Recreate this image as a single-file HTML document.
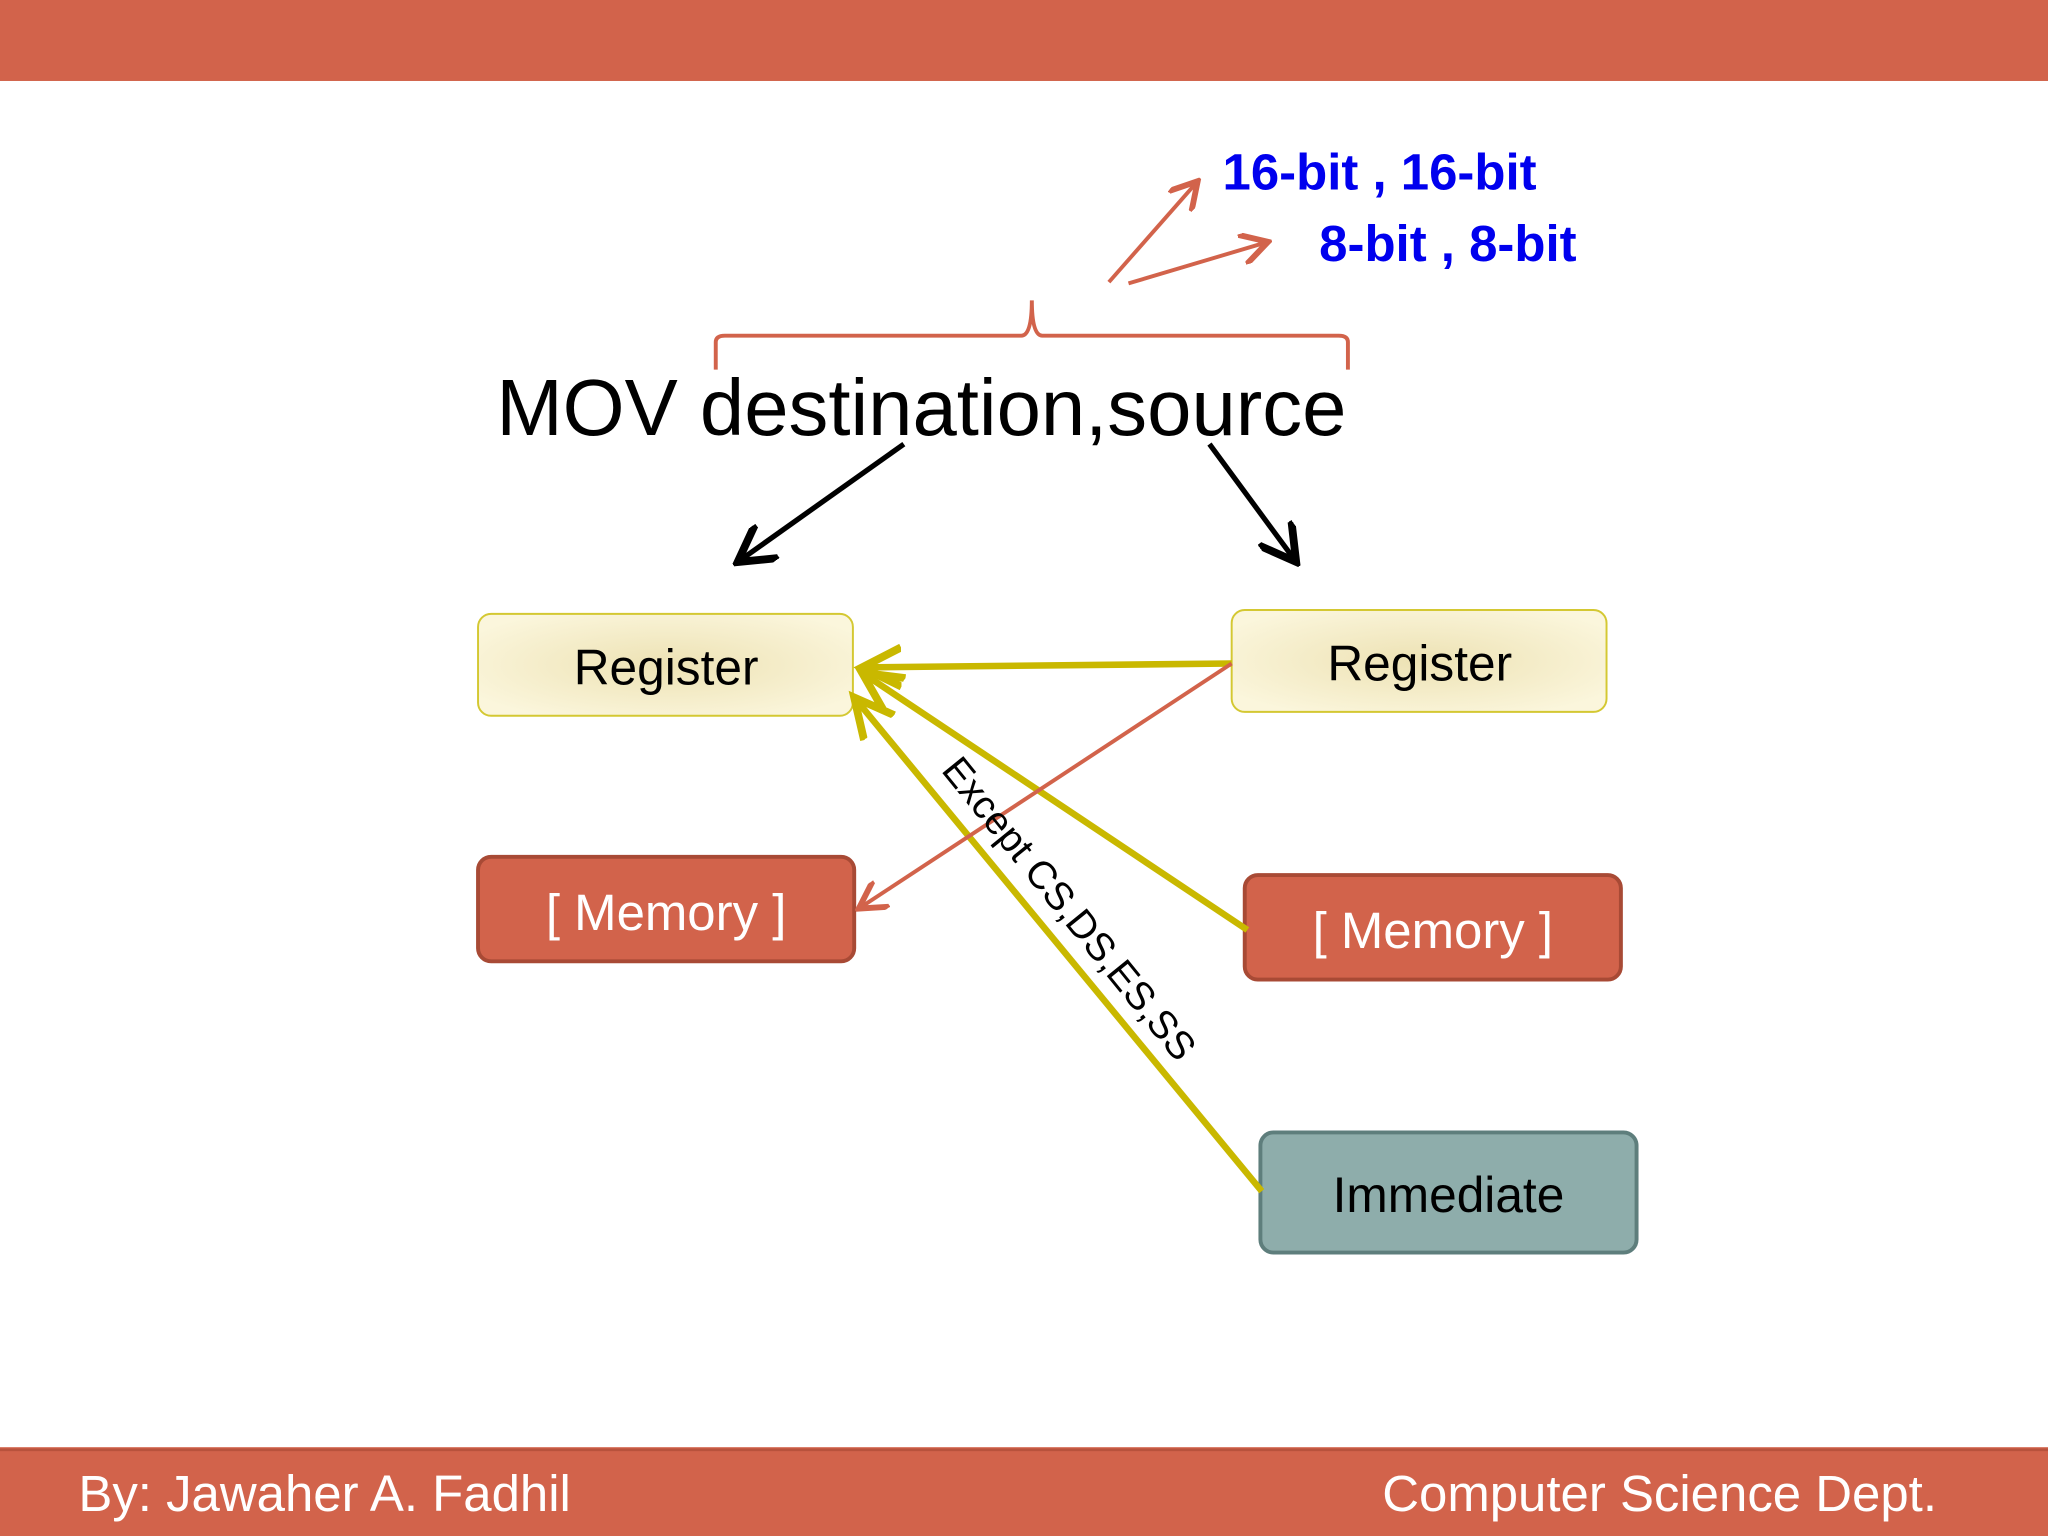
<!DOCTYPE html>
<html><head><meta charset="utf-8"><style>
html,body{margin:0;padding:0;background:#fff;}
svg{display:block;}
</style></head><body>
<svg width="2048" height="1536" viewBox="0 0 1568 1176" xmlns="http://www.w3.org/2000/svg" font-family="Liberation Sans, Arial, sans-serif">
<defs>
<radialGradient id="yg" cx="50%" cy="50%" r="60%">
<stop offset="0%" stop-color="#EDE2B4"/><stop offset="100%" stop-color="#FBF6DC"/>
</radialGradient>
<marker id="ay" markerWidth="8" markerHeight="8" refX="6" refY="4" orient="auto" markerUnits="strokeWidth"><path d="M0,1 L6,4 L0,7" fill="none" stroke="#C9B800" stroke-width="1.2"/></marker>
<marker id="ao" markerWidth="8" markerHeight="8" refX="6" refY="4" orient="auto" markerUnits="strokeWidth"><path d="M0,0 L7,4 L0,8" fill="none" stroke="#D2634B" stroke-width="1.5"/></marker>
<marker id="ab" markerWidth="8" markerHeight="8" refX="6" refY="4" orient="auto" markerUnits="strokeWidth"><path d="M0,0 L7,4 L0,8" fill="none" stroke="#000" stroke-width="1.5"/></marker>
</defs>
<rect x="0" y="0" width="1568" height="62" fill="#D2634B"/>
<rect x="0" y="1108" width="1568" height="68" fill="#D2634B"/>
<line x1="0" y1="1110" x2="1568" y2="1110" stroke="#B8523C" stroke-width="2"/>
<text x="60" y="1157" font-size="39" fill="#fff">By: Jawaher A. Fadhil</text>
<text x="1483" y="1157" font-size="39" fill="#fff" text-anchor="end">Computer Science Dept.</text>

<text x="936" y="145" font-size="39" font-weight="bold" fill="#0000EE">16-bit , 16-bit</text>
<text x="1010" y="200" font-size="39" font-weight="bold" fill="#0000EE">8-bit , 8-bit</text>
<line x1="849" y1="216" x2="915" y2="141" stroke="#D2634B" stroke-width="3" marker-end="url(#ao)"/>
<line x1="864" y1="217" x2="968" y2="186" stroke="#D2634B" stroke-width="3" marker-end="url(#ao)"/>
<path d="M548,283 L548,262 Q548,257 555,257 L782,257 Q790,257 790,230 Q790,257 798,257 L1025,257 Q1032,257 1032,262 L1032,283" fill="none" stroke="#D2634B" stroke-width="3"/>
<text x="380" y="333" font-size="61" fill="#000">MOV destination,source</text>
<line x1="692" y1="340" x2="568" y2="428" stroke="#000" stroke-width="4" marker-end="url(#ab)"/>
<line x1="926" y1="340" x2="990" y2="427" stroke="#000" stroke-width="4" marker-end="url(#ab)"/>

<rect x="366" y="470" width="287" height="78" rx="10" fill="url(#yg)" stroke="#D4C832" stroke-width="1.5"/>
<text x="510" y="524" font-size="38" text-anchor="middle">Register</text>
<rect x="943" y="467" width="287" height="78" rx="10" fill="url(#yg)" stroke="#D4C832" stroke-width="1.5"/>
<text x="1087" y="521" font-size="38" text-anchor="middle">Register</text>
<rect x="366" y="656" width="288" height="80" rx="10" fill="#D2634B" stroke="#A84A35" stroke-width="3"/>
<text x="510" y="712" font-size="39" fill="#fff" text-anchor="middle">[ Memory ]</text>
<rect x="953" y="670" width="288" height="80" rx="10" fill="#D2634B" stroke="#A84A35" stroke-width="3"/>
<text x="1097" y="726" font-size="39" fill="#fff" text-anchor="middle">[ Memory ]</text>
<rect x="965" y="867" width="288" height="92" rx="10" fill="#8EADAB" stroke="#5E7E7C" stroke-width="3"/>
<text x="1109" y="928" font-size="38" fill="#000" text-anchor="middle">Immediate</text>

<line x1="943" y1="508" x2="660" y2="511" stroke="#C9B800" stroke-width="5" marker-end="url(#ay)"/>
<line x1="955" y1="712" x2="660" y2="515" stroke="#C9B800" stroke-width="5" marker-end="url(#ay)"/>
<line x1="966" y1="912" x2="654" y2="534" stroke="#C9B800" stroke-width="5" marker-end="url(#ay)"/>
<line x1="943" y1="508" x2="660" y2="694" stroke="#D2634B" stroke-width="3" marker-end="url(#ao)"/>
<text x="0" y="0" font-size="30" transform="translate(720,590) rotate(51)">Except CS,DS,ES,SS</text>
</svg>
</body></html>
